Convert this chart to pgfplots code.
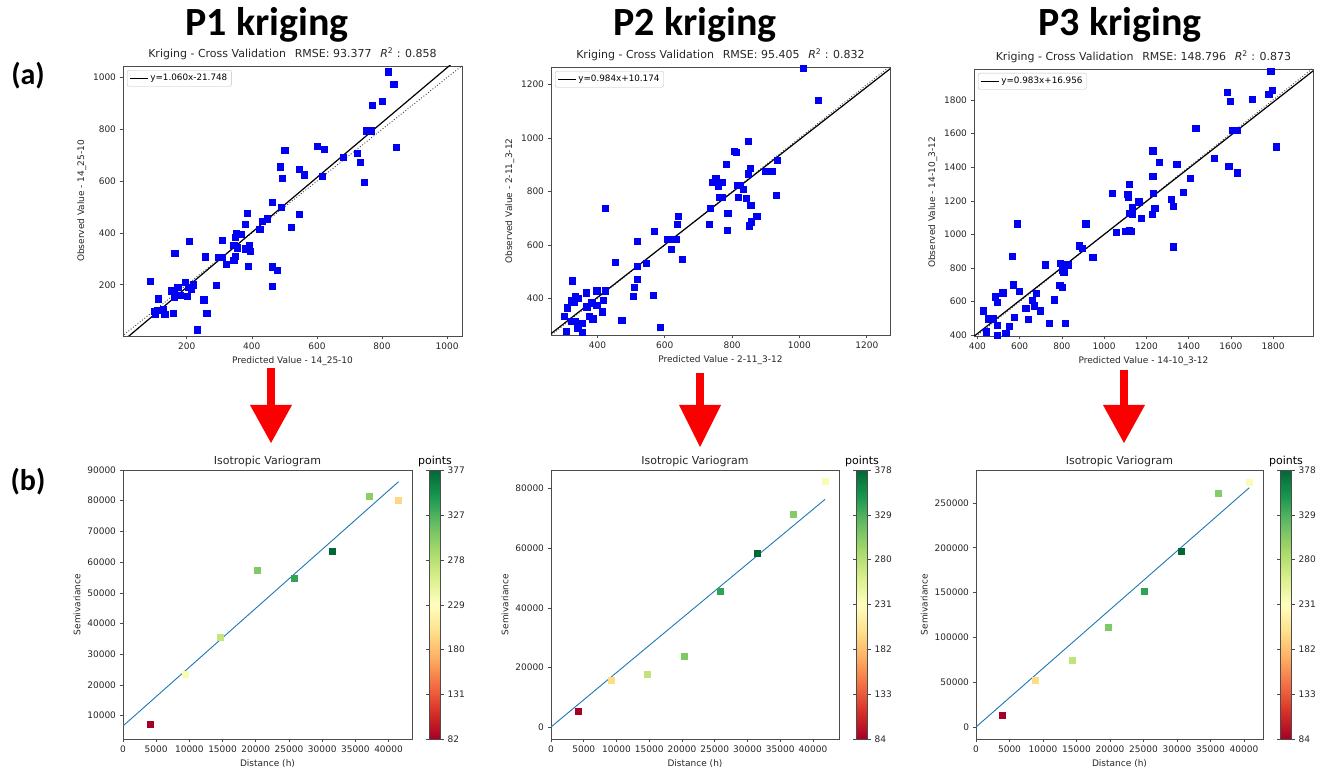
\documentclass[border=0pt]{standalone}
\usepackage{pgfplots}
\pgfplotsset{compat=1.18}
\usepackage{fontspec}
\setmainfont{DejaVu Sans}
\newfontfamily\carlito{Carlito}
\definecolor{mplblue}{RGB}{31,119,180}
\definecolor{arrowred}{RGB}{250,0,0}
\pgfplotsset{
  colormap={RdYlGn}{rgb255=(165,0,38) rgb255=(215,48,39) rgb255=(244,109,67) rgb255=(253,174,97) rgb255=(254,224,139) rgb255=(255,255,191) rgb255=(217,239,139) rgb255=(166,217,106) rgb255=(102,189,99) rgb255=(26,152,80) rgb255=(0,104,55)},
  base/.style={
    scale only axis,
    anchor=south west,
    axis line style={black!70},
    tick align=outside,
    tick pos=left,
    major tick length=3.5pt,
    every tick/.style={black!70, line width=0.6pt},
    ticklabel style={font=\fontsize{9}{10}\selectfont, text=black!85},
    every axis label/.append style={font=\fontsize{9}{10}\selectfont, text=black!85},
    title style={font=\fontsize{11}{12}\selectfont, text=black!85, yshift=-3pt},
    /pgf/number format/fixed,
    /pgf/number format/assume math mode=true,
    /pgf/number format/1000 sep={},
    scaled ticks=false,
  },
  cv/.style={base, width=339pt, height=269pt,
    legend style={at={(0.012,0.985)}, anchor=north west, font=\fontsize{8.8}{10}\selectfont, draw=black!25, rounded corners=2pt, inner sep=2pt},
    legend image post style={xscale=1.05},
    legend cell align=left},
  vg/.style={base, width=288pt, height=269pt,
    title={Isotropic Variogram}, title style={yshift=-3pt},
    xlabel={Distance (h)}, ylabel={Semivariance},
    xmin=0, xtick={0,5000,...,40000},
    colorbar,
    colorbar style={at={(parent axis.north east)}, anchor=north west, xshift=9pt,
      width=11pt, scale only axis, title={points},
      title style={font=\fontsize{11}{12}\selectfont, yshift=-6pt},
      yticklabel style={font=\fontsize{9}{10}\selectfont, text=black!85},
      axis line style={black!70}, tick align=outside, major tick length=3.5pt,
      every tick/.style={black!70, line width=0.6pt},
      /pgf/number format/fixed,
      /pgf/number format/assume math mode=true},
  },
  sc/.style={only marks, mark=square*, mark size=3.1pt, color={rgb,255:red,0;green,0;blue,245}, forget plot},
  vs/.style={scatter, only marks, mark=square*, mark size=3pt, scatter src=explicit, scatter/use mapped color={draw=mapped color, fill=mapped color}},
}
\begin{document}
\begin{tikzpicture}
\path[use as bounding box] (0pt,0pt) rectangle (1320pt,767pt);

% Big titles
\node[anchor=base, font=\carlito\bfseries\fontsize{40}{42}\selectfont] at (267pt,731pt) {P1 kriging};
\node[anchor=base, font=\carlito\bfseries\fontsize{40}{42}\selectfont] at (695pt,731pt) {P2 kriging};
\node[anchor=base, font=\carlito\bfseries\fontsize{40}{42}\selectfont] at (1120pt,731pt) {P3 kriging};
\node[font=\carlito\bfseries\fontsize{30}{32}\selectfont] at (28pt,691pt) {(a)};
\node[font=\carlito\bfseries\fontsize{30}{32}\selectfont] at (28pt,285pt) {(b)};

% Arrows
\fill[arrowred] (266.5pt,399pt) rectangle (274.5pt,360pt);
\fill[arrowred] (250pt,362pt) -- (292pt,362pt) -- (271pt,324pt) -- cycle;
\fill[arrowred] (696pt,394pt) rectangle (704pt,360pt);
\fill[arrowred] (679pt,362pt) -- (721pt,362pt) -- (700pt,320pt) -- cycle;
\fill[arrowred] (1120pt,397pt) rectangle (1128pt,360pt);
\fill[arrowred] (1103pt,362pt) -- (1145pt,362pt) -- (1124pt,324pt) -- cycle;

% ---------------- (a) P1 ----------------
\begin{axis}[cv, at={(123pt,431pt)}, height=270pt,
  xmin=4, xmax=1046, ymin=2, ymax=1045,
  xtick={200,400,600,800,1000}, ytick={200,400,600,800,1000},
  title={Kriging - Cross Validation\hspace{0.8em}RMSE: 93.377\hspace{0.8em}\textit{R}\textsuperscript{2} : 0.858},
  xlabel={Predicted Value - 14\_25-10}, ylabel={Observed Value - 14\_25-10}]
\addplot[sc] table {
818 1023
836 975
800 910
769 894
751 795
767 795
844 730
602 735
623 723
501 720
682 694
733 672
725 707
488 656
494 611
545 645
561 625
617 618
746 595
491 501
462 520
447 455
431 446
424 414
385 475
379 435
546 471
520 423
352 397
367 395
349 384
344 352
354 343
391 352
379 339
396 328
308 372
208 369
344 294
350 310
296 305
308 305
321 279
388 272
256 308
163 323
463 270
478 255
462 195
290 197
87 214
195 210
221 200
206 191
213 182
172 191
151 177
160 175
181 161
201 157
161 152
112 146
252 142
99 98
109 101
128 104
103 85
132 85
159 90
261 90
233 26
};
\addplot[black!75, dotted, line width=0.9pt, forget plot] coordinates {(0,0) (1050,1050)};
\addplot[black, line width=1.2pt] coordinates {(0,-21.748) (1050,1091.252)};
\addlegendentry{y=1.060x-21.748}
\end{axis}

% ---------------- (a) P2 ----------------
\begin{axis}[cv, at={(551pt,432pt)}, height=268pt,
  xmin=262, xmax=1269, ymin=263, ymax=1266,
  xtick={400,600,800,1000,1200}, ytick={400,600,800,1000,1200},
  title={Kriging - Cross Validation\hspace{0.8em}RMSE: 95.405\hspace{0.8em}\textit{R}\textsuperscript{2} : 0.832},
  xlabel={Predicted Value - 2-11\_3-12}, ylabel={Observed Value - 2-11\_3-12}]
\addplot[sc] table {
1012 1260
1056 1143
847 989
807 952
811 948
782 901
853 886
848 867
899 877
919 877
935 917
930 786
751 851
741 836
757 836
759 820
771 836
816 824
824 824
834 810
841 775
817 778
761 778
769 780
736 739
787 720
855 750
873 708
856 687
850 672
786 655
731 678
640 708
636 678
569 652
424 738
607 621
621 621
634 621
619 583
651 547
519 614
544 533
452 535
518 520
518 471
510 441
506 407
565 411
472 317
587 292
424 429
398 429
418 393
415 350
367 421
325 466
322 391
332 385
335 406
343 400
368 369
398 373
383 384
311 365
301 333
375 334
386 324
322 315
334 315
354 307
341 290
307 278
354 272
};
\addplot[black!75, dotted, line width=0.9pt, forget plot] coordinates {(250,250) (1280,1280)};
\addplot[black, line width=1.2pt] coordinates {(250,256.174) (1280,1269.694)};
\addlegendentry{y=0.984x+10.174}
\end{axis}

% ---------------- (a) P3 ----------------
\begin{axis}[cv, at={(974pt,431pt)}, height=267pt,
  xmin=384, xmax=1989, ymin=396, ymax=1984,
  xtick={400,600,...,1800}, ytick={400,600,...,1800},
  title={Kriging - Cross Validation\hspace{0.8em}RMSE: 148.796\hspace{0.8em}\textit{R}\textsuperscript{2} : 0.873},
  xlabel={Predicted Value - 14-10\_3-12}, ylabel={Observed Value - 14-10\_3-12}]
\addplot[sc] table {
1789 1972
1795 1859
1779 1835
1582 1845
1598 1792
1701 1804
1434 1631
1606 1621
1630 1621
1816 1522
1230 1498
1259 1429
1344 1417
1521 1453
1590 1405
1629 1367
1409 1336
1230 1348
1120 1300
1039 1245
1112 1241
1115 1225
1233 1245
1373 1253
1319 1209
1328 1169
1164 1195
1134 1159
1134 1122
1117 1124
1227 1118
1239 1155
1176 1096
1058 1013
1101 1021
1117 1026
1130 1021
913 1064
589 1064
881 933
897 917
946 866
1326 927
566 872
720 820
791 830
828 820
802 789
809 777
790 697
802 687
570 701
599 664
520 654
484 630
493 596
678 650
659 610
668 576
629 561
765 612
698 547
641 495
574 507
739 471
815 473
428 547
454 499
474 499
495 459
550 456
443 422
493 400
534 412
};
\addplot[black!75, dotted, line width=0.9pt, forget plot] coordinates {(370,370) (2000,2000)};
\addplot[black, line width=1.2pt] coordinates {(370,380.666) (2000,1982.956)};
\addlegendentry{y=0.983x+16.956}
\end{axis}

% ---------------- (b) P1 ----------------
\begin{axis}[vg, at={(123pt,28pt)}, width=289pt,
  xmax=43530, ymin=2400, ymax=90000,
  ytick={10000,20000,...,90000},
  point meta min=82, point meta max=377,
  colorbar style={ytick={82,131,180,229,278,327,377}}]
\addplot[mplblue, line width=0.9pt, forget plot] coordinates {(0,6634) (41509,86201)};
\addplot[vs] coordinates {
(4075,7177) [82]
(9308,23460) [235]
(14692,35509) [272]
(20226,57436) [305]
(25711,54722) [338]
(31447,63623) [377]
(37031,81316) [300]
(41459,80122) [195]
};
\end{axis}

% ---------------- (b) P2 ----------------
\begin{axis}[vg, at={(551pt,28pt)}, width=288pt,
  xmax=43960, ymin=-4030, ymax=86270,
  ytick={0,20000,...,80000},
  point meta min=84, point meta max=378,
  colorbar style={ytick={84,133,182,231,280,329,378}}]
\addplot[mplblue, line width=0.9pt, forget plot] coordinates {(0,0) (41830,76420)};
\addplot[vs] coordinates {
(4117,5147) [84]
(9149,15776) [200]
(14740,17566) [275]
(20280,23832) [308]
(25769,45650) [340]
(31410,58294) [378]
(37001,71273) [305]
(41830,82350) [236]
};
\end{axis}

% ---------------- (b) P3 ----------------
\begin{axis}[vg, at={(976pt,28pt)}, width=287pt,
  xmax=42830, ymin=-13390, ymax=286830,
  ytick={0,50000,...,250000},
  point meta min=84, point meta max=378,
  colorbar style={ytick={84,133,182,231,280,329,378}}]
\addplot[mplblue, line width=0.9pt, forget plot] coordinates {(0,0) (40794,267113)};
\addplot[vs] coordinates {
(3970,13393) [84]
(8883,52455) [200]
(14342,74405) [275]
(19752,110863) [308]
(25112,151786) [340]
(30670,195685) [378]
(36129,260789) [305]
(40794,273438) [236]
};
\end{axis}
\end{tikzpicture}
\end{document}
